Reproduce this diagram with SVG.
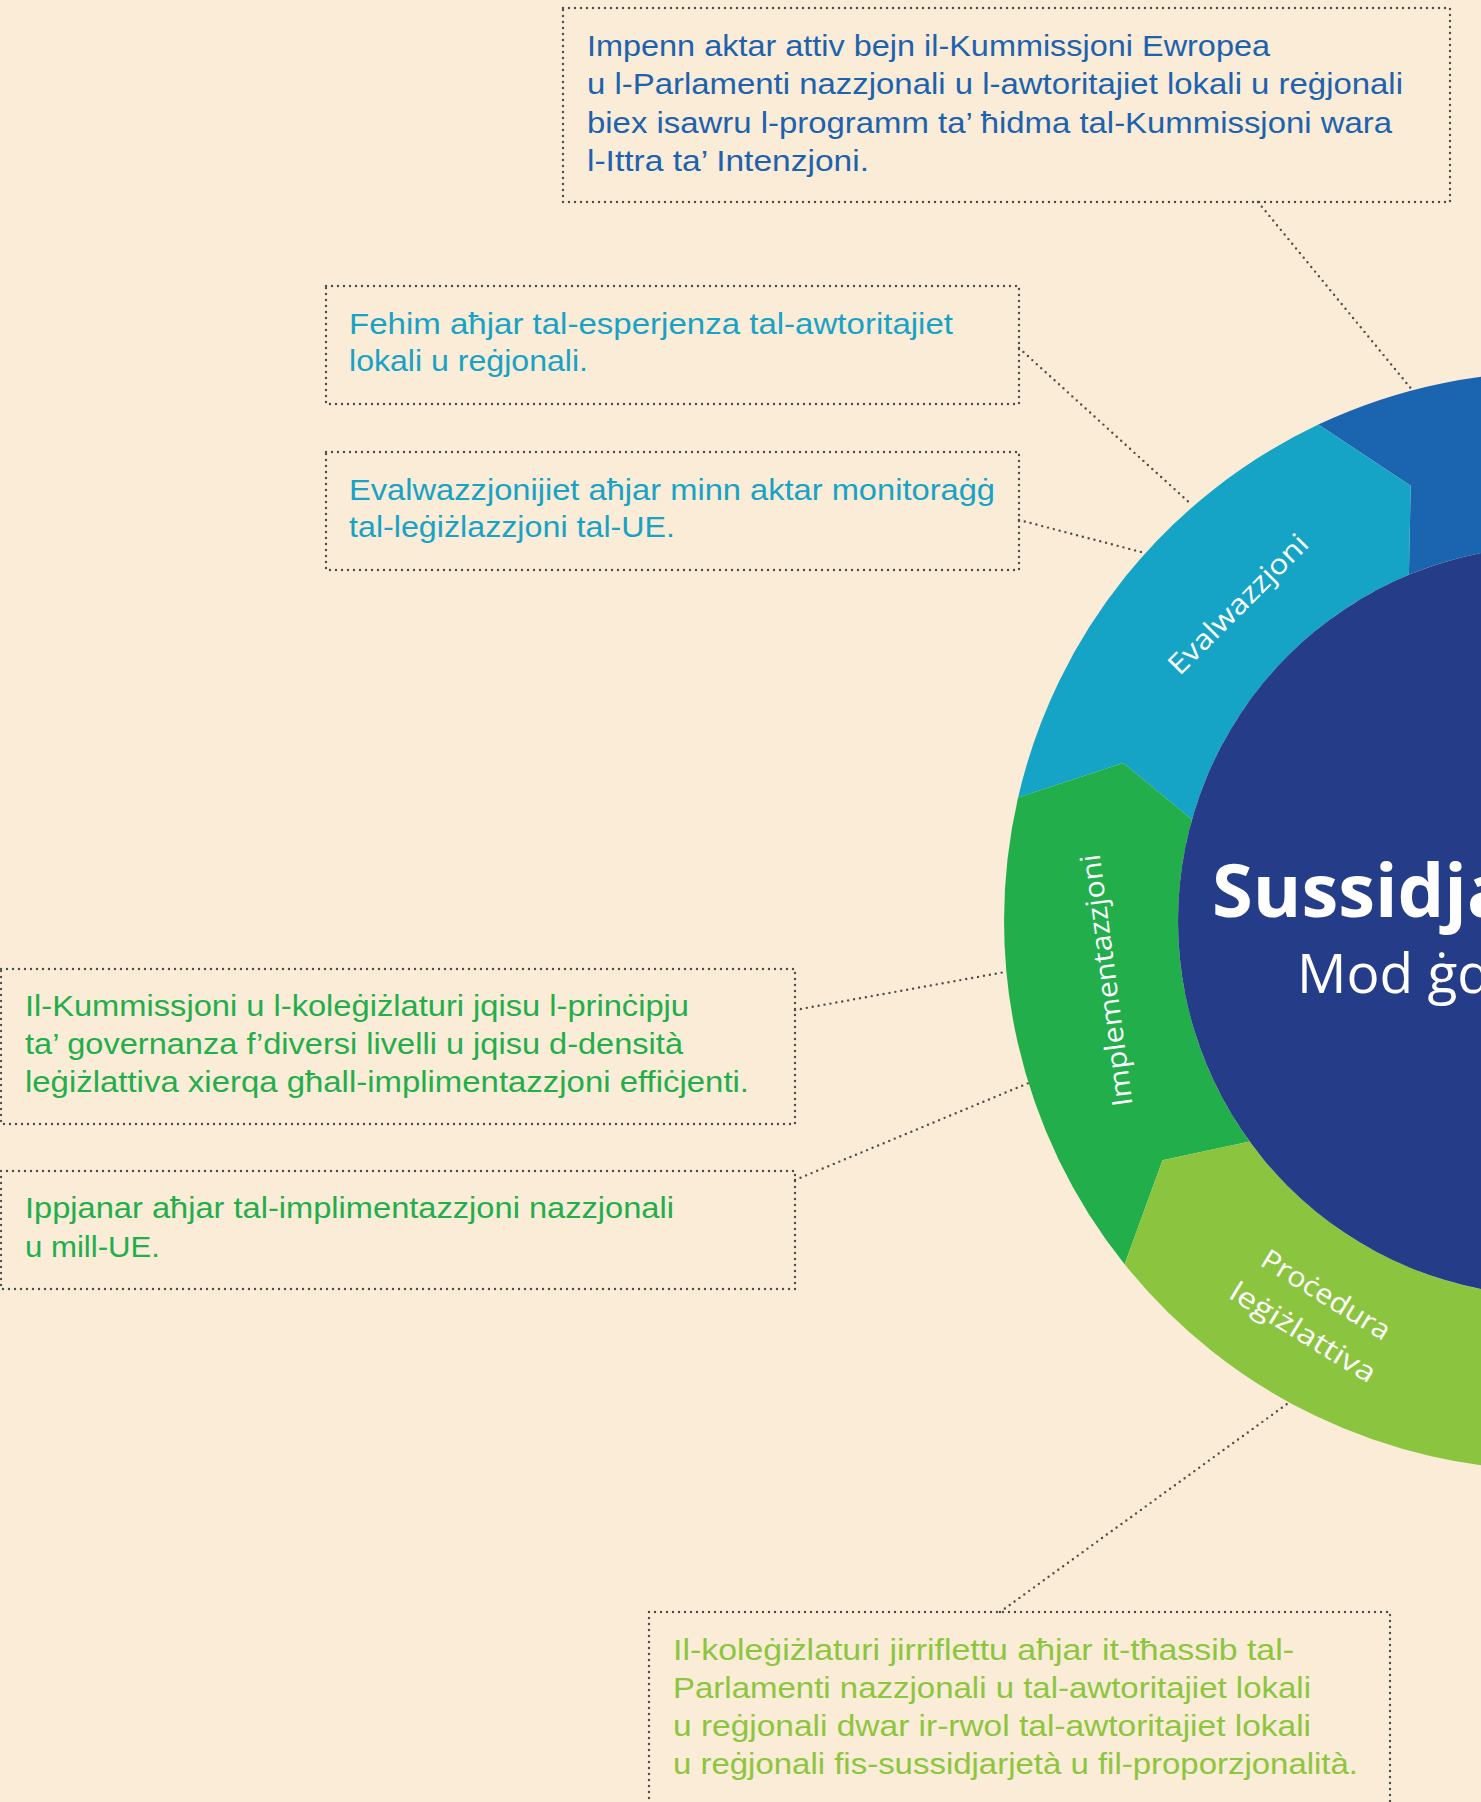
<svg xmlns="http://www.w3.org/2000/svg" width="1481" height="1802" viewBox="0 0 1481 1802">
<style>
.box{fill:none;stroke:#4d4d4d;stroke-width:2.4;stroke-dasharray:0 6;stroke-linecap:round}
.con{fill:none;stroke:#4d4d4d;stroke-width:2.4;stroke-dasharray:0 6;stroke-linecap:round}
.t{font-family:"Liberation Sans","Open Sans",sans-serif;font-size:29px}
.blue{fill:#1d62ae}
.cyan{fill:#17a2c6}
.green{fill:#22ae4b}
.lime{fill:#8cc63f}
.lab{font-family:"Open Sans","Liberation Sans",sans-serif;font-size:28px;fill:#ffffff;text-anchor:middle}
</style>
<rect x="0" y="0" width="1481" height="1802" fill="#faecd6"/>

<g id="ring">
<g id="seg-blue"><path d="M1318.4 424.6 A549 549 0 0 1 1827.5 445.6 L1740.5 596.2 A375 375 0 0 0 1408.9 574.8 L1410.7 485.7 Z" fill="#1b65b0"/></g>
<g id="seg-evalwazzjoni"><path d="M1018.1 797.5 A549 549 0 0 1 1318.4 424.6 L1410.7 485.7 L1408.9 574.8 A375 375 0 0 0 1192.0 819.5 L1123.2 762.9 Z" fill="#16a4c6"/>
<text class="lab" transform="translate(1245 611) rotate(-45)" textLength="185" lengthAdjust="spacingAndGlyphs">Evalwazzjoni</text></g>
<g id="seg-implementazzjoni"><path d="M1124.6 1264.2 A549 549 0 0 1 1018.1 797.5 L1123.2 762.9 L1192.0 819.5 A375 375 0 0 0 1249.6 1141.4 L1162.5 1160.3 Z" fill="#21ae4b"/>
<text class="lab" transform="translate(1116 979) rotate(-97.5)" textLength="254" lengthAdjust="spacingAndGlyphs">Implementazzjoni</text></g>
<g id="seg-procedura"><path d="M1553 1470 A549 549 0 0 1 1124.6 1264.2 L1162.5 1160.3 L1249.6 1141.4 A375 375 0 0 0 1553 1296 Z" fill="#8bc53f"/>
<g transform="translate(1321 1303) rotate(31.5)">
<text class="lab" x="0" y="0" textLength="146" lengthAdjust="spacingAndGlyphs">Proċedura</text>
<text class="lab" x="0" y="44" textLength="166" lengthAdjust="spacingAndGlyphs">leġiżlattiva</text>
</g></g>
<g id="center"><circle cx="1553" cy="921" r="375" fill="#253c88"/>
<text x="1212" y="917" font-family="'Open Sans','Liberation Sans',sans-serif" font-size="74" font-weight="700" fill="#ffffff">Sussidja</text>
<text x="1297" y="993" font-family="'Open Sans','Liberation Sans',sans-serif" font-size="55" fill="#ffffff">Mod ġd</text>
</g>
</g>

<g id="connectors">
<line class="con" x1="1258" y1="202" x2="1413" y2="391"/>
<line class="con" x1="1019" y1="348" x2="1192" y2="505"/>
<line class="con" x1="1019" y1="520" x2="1145" y2="553"/>
<line class="con" x1="795" y1="1010" x2="1005" y2="972"/>
<line class="con" x1="795" y1="1180" x2="1031" y2="1082"/>
<line class="con" x1="1000" y1="1612" x2="1287" y2="1404"/>
</g>

<g id="box-impenn">
<rect class="box" x="563" y="8" width="887" height="194"/>
<text class="t blue" x="587" y="56" textLength="683" lengthAdjust="spacingAndGlyphs">Impenn aktar attiv bejn il-Kummissjoni Ewropea</text>
<text class="t blue" x="587" y="94" textLength="816" lengthAdjust="spacingAndGlyphs">u l-Parlamenti nazzjonali u l-awtoritajiet lokali u reġjonali</text>
<text class="t blue" x="587" y="132.5" textLength="805" lengthAdjust="spacingAndGlyphs">biex isawru l-programm ta’ ħidma tal-Kummissjoni wara</text>
<text class="t blue" x="587" y="170.5" textLength="282" lengthAdjust="spacingAndGlyphs">l-Ittra ta’ Intenzjoni.</text>
</g>

<g id="box-fehim">
<rect class="box" x="326" y="286" width="693" height="118"/>
<text class="t cyan" x="349" y="334" textLength="604" lengthAdjust="spacingAndGlyphs">Fehim aħjar tal-esperjenza tal-awtoritajiet</text>
<text class="t cyan" x="349" y="371" textLength="239" lengthAdjust="spacingAndGlyphs">lokali u reġjonali.</text>
</g>

<g id="box-evalwazzjonijiet">
<rect class="box" x="326" y="452" width="693" height="118"/>
<text class="t cyan" x="349" y="500" textLength="646" lengthAdjust="spacingAndGlyphs">Evalwazzjonijiet aħjar minn aktar monitoraġġ</text>
<text class="t cyan" x="349" y="537" textLength="326" lengthAdjust="spacingAndGlyphs">tal-leġiżlazzjoni tal-UE.</text>
</g>

<g id="box-kummissjoni">
<rect class="box" x="1" y="969" width="794" height="155"/>
<text class="t green" x="25" y="1016" textLength="664" lengthAdjust="spacingAndGlyphs">Il-Kummissjoni u l-koleġiżlaturi jqisu l-prinċipju</text>
<text class="t green" x="25" y="1054" textLength="658" lengthAdjust="spacingAndGlyphs">ta’ governanza f’diversi livelli u jqisu d-densità</text>
<text class="t green" x="25" y="1092" textLength="724" lengthAdjust="spacingAndGlyphs">leġiżlattiva xierqa għall-implimentazzjoni effiċjenti.</text>
</g>

<g id="box-ippjanar">
<rect class="box" x="1" y="1171" width="794" height="118"/>
<text class="t green" x="25" y="1218" textLength="649" lengthAdjust="spacingAndGlyphs">Ippjanar aħjar tal-implimentazzjoni nazzjonali</text>
<text class="t green" x="25" y="1257" textLength="135" lengthAdjust="spacingAndGlyphs">u mill-UE.</text>
</g>

<g id="box-kolegizlaturi">
<rect class="box" x="649" y="1612" width="741" height="240"/>
<text class="t lime" x="673" y="1660" textLength="621" lengthAdjust="spacingAndGlyphs">Il-koleġiżlaturi jirriflettu aħjar it-tħassib tal-</text>
<text class="t lime" x="673" y="1698" textLength="638" lengthAdjust="spacingAndGlyphs">Parlamenti nazzjonali u tal-awtoritajiet lokali</text>
<text class="t lime" x="673" y="1736" textLength="638" lengthAdjust="spacingAndGlyphs">u reġjonali dwar ir-rwol tal-awtoritajiet lokali</text>
<text class="t lime" x="673" y="1774" textLength="685" lengthAdjust="spacingAndGlyphs">u reġjonali fis-sussidjarjetà u fil-proporzjonalità.</text>
</g>
</svg>
